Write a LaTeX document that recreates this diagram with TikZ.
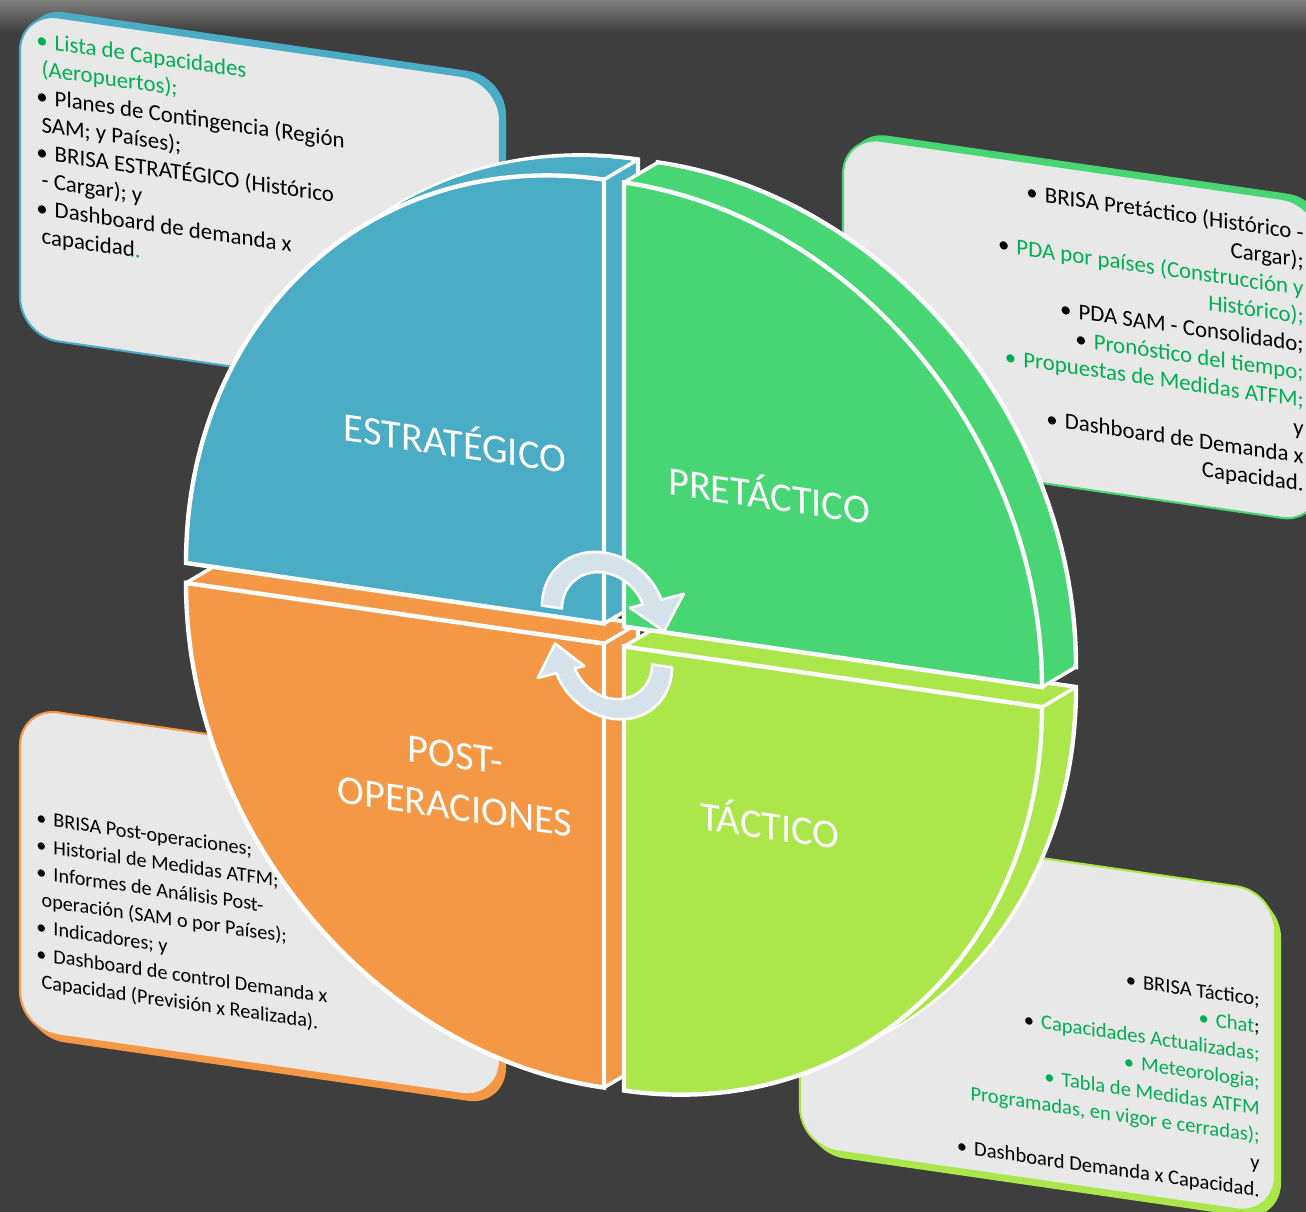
\documentclass[tikz,border=0pt]{standalone}
\usepackage{fontspec}
\setmainfont{Carlito}
\definecolor{bgdark}{RGB}{62,62,62}
\definecolor{bgtop}{RGB}{128,128,128}
\definecolor{stratblue}{RGB}{75,172,198}
\definecolor{pregreen}{RGB}{72,214,116}
\definecolor{taclime}{RGB}{171,230,74}
\definecolor{postorange}{RGB}{245,152,70}
\definecolor{boxgray}{RGB}{232,232,232}
\definecolor{textgreen}{RGB}{0,176,80}
\definecolor{arrowfill}{RGB}{213,226,234}
\newcommand{\itm}{•\hspace{4pt}}
\newcommand{\quadface}[3]{#1 -- ++(#2:418 and 444) arc[start angle=#2, end angle=#3, x radius=418, y radius=444] -- cycle}
\newcommand{\solidquad}[4]{%
  \filldraw[#1, draw=white, line width=2.5pt, shift={(34,25)}] \quadface{#2}{#3}{#4};
  \foreach \k in {11,...,1}
    \fill[#1, shift={({34*\k/12},{25*\k/12})}] \quadface{#2}{#3}{#4};
  \draw[white, line width=2pt] #2 -- ++(34,25) #2 ++(#3:418 and 444) -- ++(34,25) #2 ++(#4:418 and 444) -- ++(34,25);
  \filldraw[#1, draw=white, line width=2.5pt] \quadface{#2}{#3}{#4};
}

\begin{document}
\begin{tikzpicture}[x=0.02cm, y=0.02cm,
    boxface/.style={fill=boxgray, line width=1.2pt, rounded corners=22pt},
    boxedge/.style={rounded corners=22pt},
    listtext/.style={font=\fontsize{11.5}{15.5}\selectfont, inner sep=0pt, transform shape},
    toplist/.style={listtext, font=\fontsize{13}{15.9}\selectfont},
    phase/.style={font=\fontsize{23}{29.5}\selectfont, text=white, inner sep=0pt, transform shape, align=center},
    cyclearrow/.style={fill=arrowfill, draw=white, line width=1.5pt, line join=round}]

  \useasboundingbox (0,0) rectangle (1306,-1212);
  \clip (0,0) rectangle (1306,-1212);
  \fill[bgdark] (0,0) rectangle (1306,-1212);
  \shade[top color=bgtop, bottom color=bgdark] (0,0) rectangle (1306,-32);

  \begin{scope}[yslant=-0.145]
    % text boxes
    \fill[stratblue, boxedge] (26,-3) rectangle (506,-327);
    \filldraw[boxface, draw=stratblue] (20,-9) rectangle (500,-333);
    \fill[pregreen, boxedge] (849,-7) rectangle (1326,-326);
    \filldraw[boxface, draw=pregreen] (843,-13) rectangle (1320,-332);
    \fill[postorange, boxedge] (26,-710) rectangle (506,-1033);
    \filldraw[boxface, draw=postorange] (20,-704) rectangle (500,-1027);
    \fill[taclime, boxedge] (806,-713) rectangle (1281,-1036);
    \filldraw[boxface, draw=taclime] (800,-707) rectangle (1275,-1030);

    \node[toplist, align=left, anchor=north west] (stratlist) at (36,-26) {%
      \textcolor{textgreen}{\itm Lista de Capacidades}\\
      \hspace*{3pt}\textcolor{textgreen}{(Aeropuertos);}\\
      \itm Planes de Contingencia (Región\\
      \hspace*{3pt}SAM; y Países);\\
      \itm BRISA ESTRATÉGICO (Histórico\\
      \hspace*{3pt}- Cargar); y\\
      \itm Dashboard de demanda x\\
      \hspace*{3pt}capacidad\textcolor{textgreen}{.}};
    \node[toplist, align=right, anchor=north east] (prelist) at (1304,-34) {%
      \itm BRISA Pretáctico (Histórico -\\
      Cargar);\\
      \itm\textcolor{textgreen}{PDA por países (Construcción y}\\
      \textcolor{textgreen}{Histórico);}\\
      \itm PDA SAM - Consolidado;\\
      \itm\textcolor{textgreen}{Pronóstico del tiempo;}\\
      \textcolor{textgreen}{\itm Propuestas de Medidas ATFM;}\\
      y\\
      \itm Dashboard de Demanda x\\
      Capacidad.};
    \node[listtext, align=left, anchor=north west] (postlist) at (36,-805) {%
      \itm BRISA Post-operaciones;\\
      \itm Historial de Medidas ATFM;\\
      \itm Informes de Análisis Post-\\
      \hspace*{3pt}operación (SAM o por Países);\\
      \itm Indicadores; y\\
      \itm Dashboard de control Demanda x\\
      \hspace*{3pt}Capacidad (Previsión x Realizada).};
    \node[listtext, font=\fontsize{11.7}{15.5}\selectfont, align=right, anchor=north east] (taclist) at (1260,-809) {%
      \itm BRISA Táctico;\\
      \textcolor{textgreen}{\itm Chat};\\
      \itm\textcolor{textgreen}{Capacidades Actualizadas;}\\
      \textcolor{textgreen}{\itm Meteorologia;}\\
      \textcolor{textgreen}{\itm Tabla de Medidas ATFM}\\
      \textcolor{textgreen}{Programadas, en vigor e cerradas);}\\
      y\\
      \itm Dashboard Demanda x Capacidad.};

    % cycle
    \solidquad{postorange}{(604,-556)}{-90}{-180}
    \solidquad{stratblue}{(604,-536)}{180}{90}
    \solidquad{taclime}{(624,-556)}{0}{-90}
    \solidquad{pregreen}{(624,-536)}{90}{0}

    \node[phase, anchor=base] (strat) at (455,-391) {ESTRATÉGICO};
    \node[phase, anchor=base] (pretac) at (769,-398) {PRETÁCTICO};
    \node[phase, anchor=base] (tac) at (770,-728) {TÁCTICO};
    \node[phase] (post) at (455,-715) {POST-\\OPERACIONES};

    \coordinate (toparc) at (604,-527);
    \coordinate (botarc) at (612,-570);
    \filldraw[cyclearrow] ([shift={(180:62)}]toparc) arc[start angle=180, end angle=22, radius=62]
      -- ([shift={(22:86)}]toparc) -- ([shift={(60,-8)}]toparc) -- ([shift={(22:28)}]toparc)
      -- ([shift={(22:42)}]toparc) arc[start angle=22, end angle=180, radius=42] -- cycle;
    \filldraw[cyclearrow] ([shift={(0:60)}]botarc) arc[start angle=0, end angle=-158, radius=60]
      -- ([shift={(-158:80)}]botarc) -- ([shift={(-57,7)}]botarc) -- ([shift={(-158:30)}]botarc)
      -- ([shift={(-158:40)}]botarc) arc[start angle=-158, end angle=0, radius=40] -- cycle;
  \end{scope}
\end{tikzpicture}
\end{document}
